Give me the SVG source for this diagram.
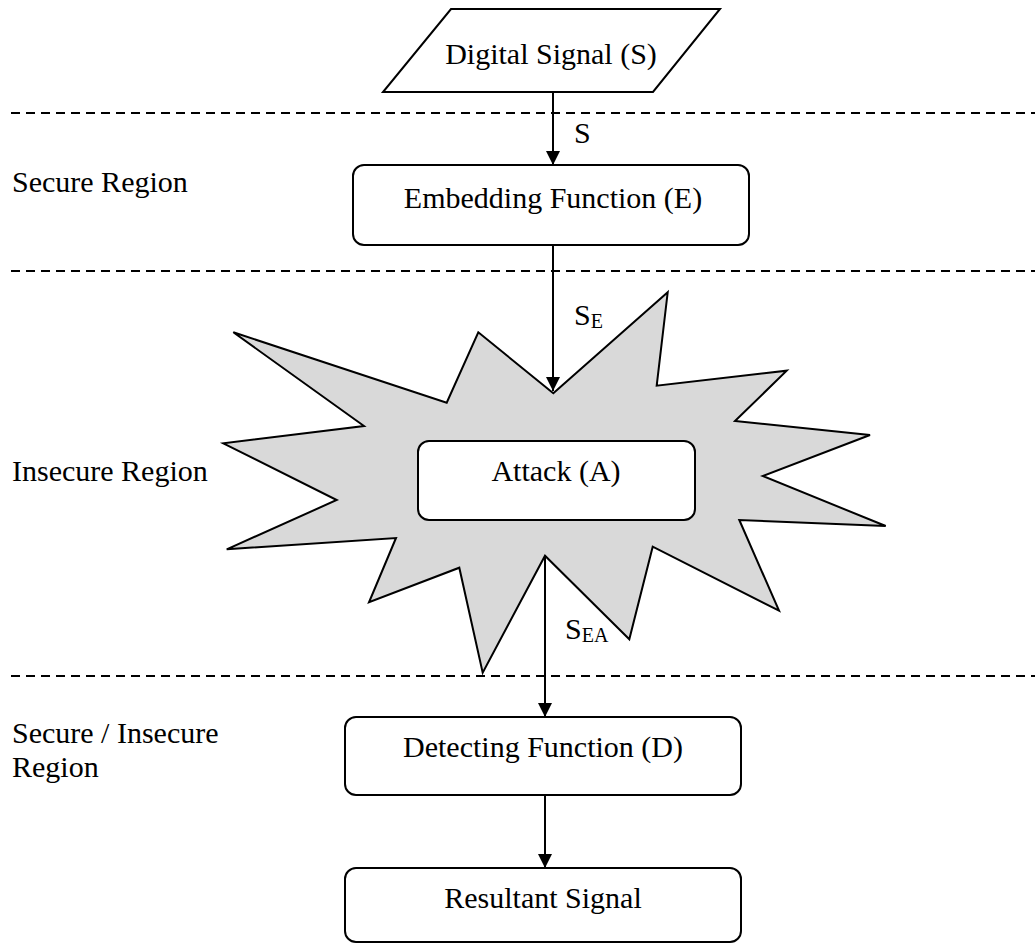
<svg xmlns="http://www.w3.org/2000/svg" width="1035" height="945" viewBox="0 0 1035 945">
<defs>
<style>
.t{font-family:"Liberation Serif","Times New Roman",serif;font-size:30px;fill:#000}
.sub{font-size:20px}
.box{fill:#fff;stroke:#000;stroke-width:2}
.dash{stroke:#000;stroke-width:2;stroke-dasharray:9 6;fill:none}
.conn{stroke:#000;stroke-width:2;fill:none}
</style>
<marker id="ah" markerUnits="userSpaceOnUse" markerWidth="14" markerHeight="14" refX="14" refY="7" orient="auto">
<path d="M0,0 L14,7 L0,14 z" fill="#000"/>
</marker>
</defs>
<rect width="1035" height="945" fill="#fff"/>
<g id="region-lines">
<line class="dash" x1="11" y1="113" x2="1035" y2="113"/>
<line class="dash" x1="11" y1="271" x2="1035" y2="271"/>
<line class="dash" x1="11" y1="676" x2="1035" y2="676"/>
</g>
<g id="region-labels">
<text class="t" x="12" y="192">Secure Region</text>
<text class="t" x="12" y="481">Insecure Region</text>
<text class="t" x="12" y="743">Secure / Insecure</text>
<text class="t" x="12" y="777">Region</text>
</g>
<g id="attack-star">
<polygon points="553.3,393.3 667.7,292.3 656.7,385.7 786.7,370.7 735,421 870,435 762.7,476 885.7,526 739.3,520 779,610.7 652.7,546.7 629.3,639.3 545,555.7 482.7,672.7 459.3,567.7 369,602.3 396,538 226.7,549.3 336.7,500 223.3,443.3 364,426 233.3,332.3 446.7,402.7 478.3,332.3" fill="#d9d9d9" stroke="#000" stroke-width="2" stroke-linejoin="miter"/>
</g>
<g id="digital-signal">
<polygon class="box" points="451,9 720,9 653,92 383,92"/>
<text class="t" x="551" y="64" text-anchor="middle">Digital Signal (S)</text>
</g>
<g id="embedding">
<rect class="box" x="353" y="165" width="396" height="80" rx="11"/>
<text class="t" x="553" y="208" text-anchor="middle">Embedding Function (E)</text>
</g>
<g id="attack">
<rect class="box" x="418" y="441" width="277" height="79" rx="11"/>
<text class="t" x="556" y="481" text-anchor="middle">Attack (A)</text>
</g>
<g id="detecting">
<rect class="box" x="345" y="717" width="396" height="78" rx="11"/>
<text class="t" x="543" y="757" text-anchor="middle">Detecting Function (D)</text>
</g>
<g id="resultant">
<rect class="box" x="345" y="868" width="396" height="74" rx="11"/>
<text class="t" x="543" y="908" text-anchor="middle">Resultant Signal</text>
</g>
<g id="connectors">
<line class="conn" x1="553" y1="92" x2="553" y2="165" marker-end="url(#ah)"/>
<line class="conn" x1="553" y1="245" x2="553" y2="391" marker-end="url(#ah)"/>
<line class="conn" x1="545" y1="556" x2="545" y2="717" marker-end="url(#ah)"/>
<line class="conn" x1="545" y1="795" x2="545" y2="868" marker-end="url(#ah)"/>
</g>
<g id="connector-labels">
<text class="t" x="574" y="143">S</text>
<text class="t" x="574" y="325">S<tspan class="sub" dy="3">E</tspan></text>
<text class="t" x="565" y="639">S<tspan class="sub" dy="3">EA</tspan></text>
</g>
</svg>
